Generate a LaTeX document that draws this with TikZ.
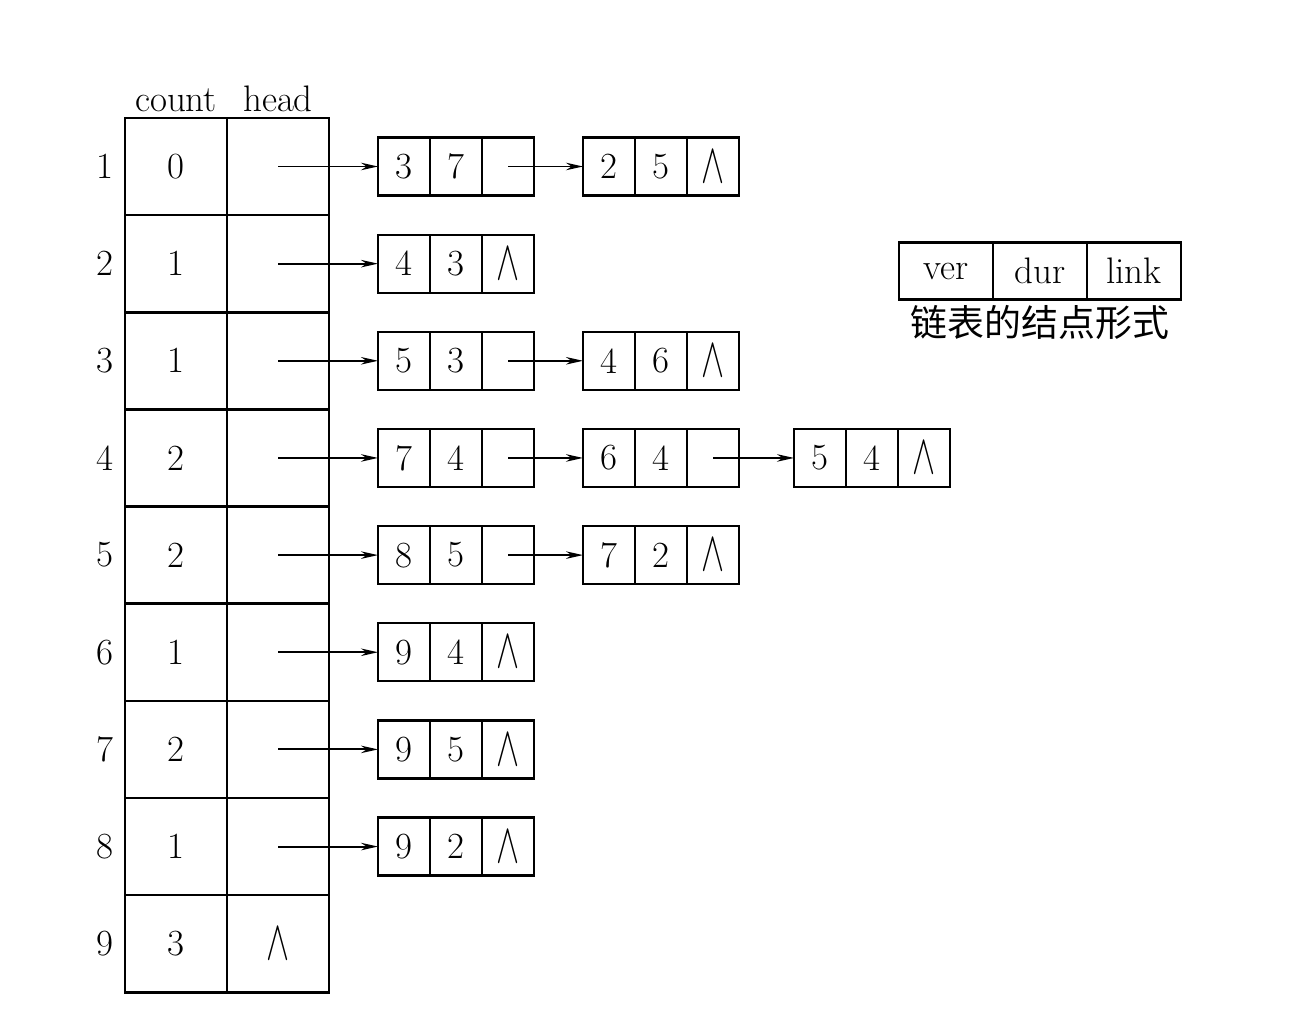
\documentclass[tikz,border=0pt]{standalone}
\usepackage[no-math]{fontspec}
\newfontfamily\cjk{Noto Sans CJK SC}
\usetikzlibrary{arrows.meta, positioning}

% null pointer
\newcommand{\nil}{\scalebox{0.95}[1.55]{$\wedge$}}
% one list node: ver | dur | link
\newcommand{\listnode}[5]{%
  \node[cell, #2] (#1v) {#3};
  \node[cell, right=0pt of #1v] (#1d) {#4};
  \node[cell, right=0pt of #1d] (#1l) {#5};
}

\begin{document}
\begin{tikzpicture}[
    >={Stealth[length=3.4mm, width=1.5mm]},
    font=\fontsize{21}{25}\selectfont,
    tcell/.style={draw, line width=1.5pt, minimum width=2.04cm,
                  minimum height=1.943cm, inner sep=0pt, outer sep=0pt},
    cell/.style={draw, line width=1.3pt, minimum width=1.04cm,
                 minimum height=1.16cm, inner sep=0pt, outer sep=0pt},
    lcell/.style={cell, minimum width=1.88cm, minimum height=1.14cm},
    link/.style={->, line width=1.1pt}
  ]
  \useasboundingbox (0,0) rectangle (26.22,-20.42);

  % count / head table
  \foreach \i/\c in {1/0,2/1,3/1,4/2,5/2,6/1,7/2,8/1,9/3} {
    \node[tcell] (c\i) at (3.52, {-3.33-1.943*(\i-1)}) {\c};
    \node[tcell, right=0pt of c\i] (h\i) {};
    \node[left=0.1cm of c\i] (r\i) {\i};
  }
  \node (nil9) at (h9) {\nil};
  \node[above=0pt of c1] (count) {count};
  \node[above=0pt of h1] (head) {head};

  % adjacency lists
  \listnode{a1}{right=0.98cm of h1}{3}{7}{}
  \listnode{b1}{right=0.98cm of a1l}{2}{5}{\nil}
  \listnode{a2}{right=0.98cm of h2}{4}{3}{\nil}
  \listnode{a3}{right=0.98cm of h3}{5}{3}{}
  \listnode{b3}{right=0.98cm of a3l}{4}{6}{\nil}
  \listnode{a4}{right=0.98cm of h4}{7}{4}{}
  \listnode{b4}{right=0.98cm of a4l}{6}{4}{}
  \listnode{c4}{right=1.1cm of b4l}{5}{4}{\nil}
  \listnode{a5}{right=0.98cm of h5}{8}{5}{}
  \listnode{b5}{right=0.98cm of a5l}{7}{2}{\nil}
  \listnode{a6}{right=0.98cm of h6}{9}{4}{\nil}
  \listnode{a7}{right=0.98cm of h7}{9}{5}{\nil}
  \listnode{a8}{right=0.98cm of h8}{9}{2}{\nil}

  \foreach \i in {1,...,8}
    \draw[link] (h\i.center) -- (a\i v);
  \draw[link] (a1l.center) -- (b1v);
  \draw[link] (a3l.center) -- (b3v);
  \draw[link] (a4l.center) -- (b4v);
  \draw[link] (b4l.center) -- (c4v);
  \draw[link] (a5l.center) -- (b5v);

  % node format
  \node[lcell] (legv) at (18.92, -5.42) {ver};
  \node[lcell, right=0pt of legv] (legd) {dur};
  \node[lcell, right=0pt of legd] (legl) {link};
  \node[below=0pt of legd] (legcap) {\cjk 链表的结点形式};
\end{tikzpicture}
\end{document}
